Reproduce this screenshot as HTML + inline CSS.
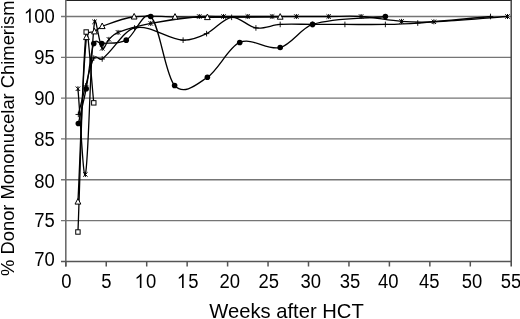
<!DOCTYPE html>
<html><head><meta charset="utf-8"><style>
html,body{margin:0;padding:0;background:#fff;}
svg{display:block;will-change:transform;}
text{font-family:"Liberation Sans",sans-serif;fill:#000;}
</style></head><body>
<svg width="520" height="319" viewBox="0 0 520 319">
<line x1="61" y1="220.58" x2="511" y2="220.58" stroke="#757575" stroke-width="1.3"/>
<line x1="61" y1="179.76" x2="511" y2="179.76" stroke="#757575" stroke-width="1.3"/>
<line x1="61" y1="138.94" x2="511" y2="138.94" stroke="#757575" stroke-width="1.3"/>
<line x1="61" y1="98.13" x2="511" y2="98.13" stroke="#757575" stroke-width="1.3"/>
<line x1="61" y1="57.31" x2="511" y2="57.31" stroke="#757575" stroke-width="1.3"/>
<line x1="61" y1="16.50" x2="511" y2="16.50" stroke="#757575" stroke-width="1.3"/>
<line x1="65.8" y1="0.4" x2="512" y2="0.4" stroke="#222" stroke-width="1.4"/>
<line x1="511.2" y1="0" x2="511.2" y2="266.5" stroke="#444" stroke-width="1.5"/>
<line x1="65.8" y1="0" x2="65.8" y2="266.5" stroke="#6c6c6c" stroke-width="1.6"/>
<line x1="61" y1="261.4" x2="511.5" y2="261.4" stroke="#555" stroke-width="1.5"/>
<line x1="65.80" y1="261.4" x2="65.80" y2="266.5" stroke="#555" stroke-width="1.5"/>
<line x1="106.25" y1="261.4" x2="106.25" y2="266.5" stroke="#555" stroke-width="1.5"/>
<line x1="146.70" y1="261.4" x2="146.70" y2="266.5" stroke="#555" stroke-width="1.5"/>
<line x1="187.15" y1="261.4" x2="187.15" y2="266.5" stroke="#555" stroke-width="1.5"/>
<line x1="227.60" y1="261.4" x2="227.60" y2="266.5" stroke="#555" stroke-width="1.5"/>
<line x1="268.05" y1="261.4" x2="268.05" y2="266.5" stroke="#555" stroke-width="1.5"/>
<line x1="308.50" y1="261.4" x2="308.50" y2="266.5" stroke="#555" stroke-width="1.5"/>
<line x1="348.95" y1="261.4" x2="348.95" y2="266.5" stroke="#555" stroke-width="1.5"/>
<line x1="389.40" y1="261.4" x2="389.40" y2="266.5" stroke="#555" stroke-width="1.5"/>
<line x1="429.85" y1="261.4" x2="429.85" y2="266.5" stroke="#555" stroke-width="1.5"/>
<line x1="470.30" y1="261.4" x2="470.30" y2="266.5" stroke="#555" stroke-width="1.5"/>
<path d="M78.34,114.46 C80.79,104.93 83.16,95.15 85.70,85.89 C88.31,76.37 90.60,63.34 93.79,58.13 C96.10,54.36 99.49,60.96 102.20,58.95 C113.08,50.89 123.54,30.49 134.56,27.93 C150.51,24.23 166.93,38.89 183.10,40.17 C190.93,40.79 198.81,37.30 206.57,33.64 C214.99,29.68 223.24,18.29 231.64,17.32 C239.69,16.38 247.79,26.74 255.92,27.93 C263.97,29.11 272.09,24.92 280.19,24.42 C290.97,23.75 301.76,24.42 312.55,24.42 C323.33,24.42 334.12,24.42 344.91,24.42 C358.39,24.42 371.87,24.68 385.36,24.42 C396.14,24.21 406.93,23.84 417.72,23.03 C441.99,21.20 466.25,18.68 490.52,16.50" fill="none" stroke="#000" stroke-width="1.3"/>
<path d="M77.94,88.74 C80.42,117.31 83.36,182.58 85.38,174.45 C88.89,160.27 89.98,55.79 94.52,21.81 C95.59,13.75 99.30,44.80 102.20,48.34 C104.10,50.65 106.62,41.67 108.92,39.36 C111.90,36.36 114.96,33.60 118.06,32.42 C128.90,28.29 139.83,25.58 150.75,23.44 C166.91,20.27 183.10,18.04 199.28,16.50 C207.37,15.73 215.47,16.50 223.56,16.50 C231.65,16.50 239.73,16.50 247.82,16.50 C255.91,16.50 264.00,16.50 272.09,16.50 C280.19,16.50 288.27,16.50 296.37,16.50 C307.15,16.50 317.94,16.50 328.73,16.50 C339.51,16.50 350.30,15.77 361.08,16.50 C374.57,17.41 388.05,20.41 401.54,21.40 C412.32,22.18 423.11,22.30 433.89,21.81 C458.44,20.67 482.97,18.27 507.51,16.50" fill="none" stroke="#000" stroke-width="1.3"/>
<path d="M77.94,201.80 C80.77,146.97 81.68,86.01 86.43,37.32 C87.21,29.27 91.82,33.49 94.52,31.60 C97.08,29.81 99.61,27.27 102.20,26.30 C112.82,22.32 123.48,18.12 134.16,16.74 C147.75,14.99 161.40,16.80 175.01,16.91 C185.80,16.99 196.59,17.32 207.38,17.32 C231.64,17.32 255.91,17.04 280.19,16.91" fill="none" stroke="#000" stroke-width="1.3"/>
<path d="M77.94,232.00 C80.69,165.34 82.34,63.37 86.19,32.01 C87.62,20.32 91.26,79.25 93.79,102.86" fill="none" stroke="#000" stroke-width="1.3"/>
<path d="M78.34,123.44 C80.96,111.87 83.84,100.89 86.19,88.74 C88.99,74.23 90.35,53.41 93.79,43.44 C95.56,38.31 99.13,43.71 101.80,43.44 C109.95,42.62 118.25,44.57 126.23,40.17 C134.56,35.59 143.54,9.75 150.75,16.50 C159.66,24.85 165.36,75.54 174.61,85.48 C184.23,95.81 196.71,84.36 207.38,77.31 C218.42,70.02 228.65,46.99 239.74,42.46 C252.92,37.06 266.83,50.83 280.19,47.52 C291.10,44.81 301.59,27.65 312.55,24.42 C336.65,17.31 361.09,19.14 385.36,16.50" fill="none" stroke="#000" stroke-width="1.3"/>
<path d="M75.54,114.46 L81.14,114.46 M78.34,111.66 L78.34,117.26" stroke="#000" stroke-width="0.9"/>
<path d="M82.90,85.89 L88.50,85.89 M85.70,83.09 L85.70,88.69" stroke="#000" stroke-width="0.9"/>
<path d="M90.99,58.13 L96.59,58.13 M93.79,55.33 L93.79,60.93" stroke="#000" stroke-width="0.9"/>
<path d="M99.41,58.95 L105.00,58.95 M102.20,56.15 L102.20,61.75" stroke="#000" stroke-width="0.9"/>
<path d="M131.76,27.93 L137.37,27.93 M134.56,25.13 L134.56,30.73" stroke="#000" stroke-width="0.9"/>
<path d="M180.30,40.17 L185.91,40.17 M183.10,37.37 L183.10,42.97" stroke="#000" stroke-width="0.9"/>
<path d="M203.77,33.64 L209.37,33.64 M206.57,30.84 L206.57,36.44" stroke="#000" stroke-width="0.9"/>
<path d="M228.84,17.32 L234.44,17.32 M231.64,14.52 L231.64,20.12" stroke="#000" stroke-width="0.9"/>
<path d="M253.12,27.93 L258.72,27.93 M255.92,25.13 L255.92,30.73" stroke="#000" stroke-width="0.9"/>
<path d="M277.38,24.42 L282.99,24.42 M280.19,21.62 L280.19,27.22" stroke="#000" stroke-width="0.9"/>
<path d="M309.75,24.42 L315.35,24.42 M312.55,21.62 L312.55,27.22" stroke="#000" stroke-width="0.9"/>
<path d="M342.11,24.42 L347.71,24.42 M344.91,21.62 L344.91,27.22" stroke="#000" stroke-width="0.9"/>
<path d="M382.56,24.42 L388.16,24.42 M385.36,21.62 L385.36,27.22" stroke="#000" stroke-width="0.9"/>
<path d="M414.92,23.03 L420.52,23.03 M417.72,20.23 L417.72,25.83" stroke="#000" stroke-width="0.9"/>
<path d="M487.72,16.50 L493.32,16.50 M490.52,13.70 L490.52,19.30" stroke="#000" stroke-width="0.9"/>
<path d="M75.73,86.54 L80.14,90.94 M75.73,90.94 L80.14,86.54 M77.94,86.24 L77.94,91.24" stroke="#000" stroke-width="1"/>
<path d="M83.18,172.25 L87.58,176.65 M83.18,176.65 L87.58,172.25 M85.38,171.95 L85.38,176.95" stroke="#000" stroke-width="1"/>
<path d="M92.32,19.61 L96.72,24.01 M92.32,24.01 L96.72,19.61 M94.52,19.31 L94.52,24.31" stroke="#000" stroke-width="1"/>
<path d="M100.00,46.14 L104.41,50.54 M100.00,50.54 L104.41,46.14 M102.20,45.84 L102.20,50.84" stroke="#000" stroke-width="1"/>
<path d="M106.72,37.16 L111.12,41.56 M106.72,41.56 L111.12,37.16 M108.92,36.86 L108.92,41.86" stroke="#000" stroke-width="1"/>
<path d="M115.86,30.22 L120.26,34.62 M115.86,34.62 L120.26,30.22 M118.06,29.92 L118.06,34.92" stroke="#000" stroke-width="1"/>
<path d="M148.55,21.24 L152.94,25.64 M148.55,25.64 L152.94,21.24 M150.75,20.94 L150.75,25.94" stroke="#000" stroke-width="1"/>
<path d="M197.08,14.30 L201.48,18.70 M197.08,18.70 L201.48,14.30 M199.28,14.00 L199.28,19.00" stroke="#000" stroke-width="1"/>
<path d="M221.36,14.30 L225.75,18.70 M221.36,18.70 L225.75,14.30 M223.56,14.00 L223.56,19.00" stroke="#000" stroke-width="1"/>
<path d="M245.62,14.30 L250.02,18.70 M245.62,18.70 L250.02,14.30 M247.82,14.00 L247.82,19.00" stroke="#000" stroke-width="1"/>
<path d="M269.89,14.30 L274.29,18.70 M269.89,18.70 L274.29,14.30 M272.09,14.00 L272.09,19.00" stroke="#000" stroke-width="1"/>
<path d="M294.17,14.30 L298.56,18.70 M294.17,18.70 L298.56,14.30 M296.37,14.00 L296.37,19.00" stroke="#000" stroke-width="1"/>
<path d="M326.53,14.30 L330.93,18.70 M326.53,18.70 L330.93,14.30 M328.73,14.00 L328.73,19.00" stroke="#000" stroke-width="1"/>
<path d="M358.88,14.30 L363.28,18.70 M358.88,18.70 L363.28,14.30 M361.08,14.00 L361.08,19.00" stroke="#000" stroke-width="1"/>
<path d="M399.34,19.20 L403.74,23.60 M399.34,23.60 L403.74,19.20 M401.54,18.90 L401.54,23.90" stroke="#000" stroke-width="1"/>
<path d="M431.69,19.61 L436.09,24.01 M431.69,24.01 L436.09,19.61 M433.89,19.31 L433.89,24.31" stroke="#000" stroke-width="1"/>
<path d="M505.31,14.30 L509.71,18.70 M505.31,18.70 L509.71,14.30 M507.51,14.00 L507.51,19.00" stroke="#000" stroke-width="1"/>
<path d="M77.94,198.50 L80.84,204.10 L75.03,204.10 Z" fill="#fff" stroke="#000" stroke-width="1"/>
<path d="M86.43,34.02 L89.33,39.62 L83.53,39.62 Z" fill="#fff" stroke="#000" stroke-width="1"/>
<path d="M94.52,28.30 L97.42,33.90 L91.62,33.90 Z" fill="#fff" stroke="#000" stroke-width="1"/>
<path d="M102.20,23.00 L105.11,28.60 L99.30,28.60 Z" fill="#fff" stroke="#000" stroke-width="1"/>
<path d="M134.16,13.44 L137.06,19.04 L131.26,19.04 Z" fill="#fff" stroke="#000" stroke-width="1"/>
<path d="M175.01,13.61 L177.91,19.21 L172.11,19.21 Z" fill="#fff" stroke="#000" stroke-width="1"/>
<path d="M207.38,14.02 L210.28,19.62 L204.47,19.62 Z" fill="#fff" stroke="#000" stroke-width="1"/>
<path d="M280.19,13.61 L283.08,19.21 L277.29,19.21 Z" fill="#fff" stroke="#000" stroke-width="1"/>
<rect x="75.73" y="229.80" width="4.4" height="4.4" fill="#fff" stroke="#000" stroke-width="1"/>
<rect x="83.99" y="29.81" width="4.4" height="4.4" fill="#fff" stroke="#000" stroke-width="1"/>
<rect x="91.59" y="100.66" width="4.4" height="4.4" fill="#fff" stroke="#000" stroke-width="1"/>
<circle cx="78.34" cy="123.44" r="2.8" fill="#000"/>
<circle cx="86.19" cy="88.74" r="2.8" fill="#000"/>
<circle cx="93.79" cy="43.44" r="2.8" fill="#000"/>
<circle cx="101.80" cy="43.44" r="2.8" fill="#000"/>
<circle cx="126.23" cy="40.17" r="2.8" fill="#000"/>
<circle cx="150.75" cy="16.50" r="2.8" fill="#000"/>
<circle cx="174.61" cy="85.48" r="2.8" fill="#000"/>
<circle cx="207.38" cy="77.31" r="2.8" fill="#000"/>
<circle cx="239.74" cy="42.46" r="2.8" fill="#000"/>
<circle cx="280.19" cy="47.52" r="2.8" fill="#000"/>
<circle cx="312.55" cy="24.42" r="2.8" fill="#000"/>
<circle cx="385.36" cy="16.50" r="2.8" fill="#000"/>
<g font-size="20.5"><g transform="translate(34.20,266.20) scale(0.9000,1)"><text x="0.00" y="0">7</text><text x="11.40" y="0">0</text></g>
<g transform="translate(34.25,227.30) scale(0.9000,1)"><text x="0.00" y="0">7</text><text x="11.40" y="0">5</text></g>
<g transform="translate(34.20,187.70) scale(0.9000,1)"><text x="0.00" y="0">8</text><text x="11.40" y="0">0</text></g>
<g transform="translate(34.25,145.70) scale(0.9000,1)"><text x="0.00" y="0">8</text><text x="11.40" y="0">5</text></g>
<g transform="translate(34.20,104.70) scale(0.9000,1)"><text x="0.00" y="0">9</text><text x="11.40" y="0">0</text></g>
<g transform="translate(34.25,63.70) scale(0.9000,1)"><text x="0.00" y="0">9</text><text x="11.40" y="0">5</text></g>
<g transform="translate(23.84,22.80) scale(0.9000,1)"><path transform="translate(0.00,0) scale(0.01001,-0.00976)" d="M763,0 L583,0 L583,1147 Q518,1085 412,1023 Q307,961 223,930 L223,1104 Q374,1175 487,1276 Q600,1377 646,1466 L763,1466 Z"/><text x="11.51" y="0">0</text><text x="22.91" y="0">0</text></g></g>
<g font-size="20.5"><g transform="translate(61.18,288.00) scale(0.9000,1)"><text x="0.00" y="0">0</text></g>
<g transform="translate(101.26,288.00) scale(0.9000,1)"><text x="0.00" y="0">5</text></g>
<g transform="translate(134.59,288.00) scale(0.9000,1)"><path transform="translate(0.00,0) scale(0.01001,-0.00976)" d="M763,0 L583,0 L583,1147 Q518,1085 412,1023 Q307,961 223,930 L223,1104 Q374,1175 487,1276 Q600,1377 646,1466 L763,1466 Z"/><text x="12.62" y="0">0</text></g>
<g transform="translate(176.79,288.00) scale(0.9000,1)"><path transform="translate(0.00,0) scale(0.01001,-0.00976)" d="M763,0 L583,0 L583,1147 Q518,1085 412,1023 Q307,961 223,930 L223,1104 Q374,1175 487,1276 Q600,1377 646,1466 L763,1466 Z"/><text x="12.62" y="0">5</text></g>
<g transform="translate(219.57,288.00) scale(0.9000,1)"><text x="0.00" y="0">2</text><text x="11.40" y="0">0</text></g>
<g transform="translate(258.57,288.00) scale(0.9000,1)"><text x="0.00" y="0">2</text><text x="11.40" y="0">5</text></g>
<g transform="translate(300.50,288.00) scale(0.9000,1)"><text x="0.00" y="0">3</text><text x="11.40" y="0">0</text></g>
<g transform="translate(339.80,288.00) scale(0.9000,1)"><text x="0.00" y="0">3</text><text x="11.40" y="0">5</text></g>
<g transform="translate(377.98,288.00) scale(0.9000,1)"><text x="0.00" y="0">4</text><text x="11.40" y="0">0</text></g>
<g transform="translate(418.88,288.00) scale(0.9000,1)"><text x="0.00" y="0">4</text><text x="11.40" y="0">5</text></g>
<g transform="translate(461.76,288.00) scale(0.9000,1)"><text x="0.00" y="0">5</text><text x="11.40" y="0">0</text></g>
<g transform="translate(500.66,288.00) scale(0.9000,1)"><text x="0.00" y="0">5</text><text x="11.40" y="0">5</text></g></g>
<text x="286.5" y="317.7" font-size="20.2" text-anchor="middle">Weeks after HCT</text>
<text transform="translate(13.8,138.2) rotate(-90)" font-size="18.38" text-anchor="middle">% Donor Mononucelar Chimerism</text>
</svg>
</body></html>
